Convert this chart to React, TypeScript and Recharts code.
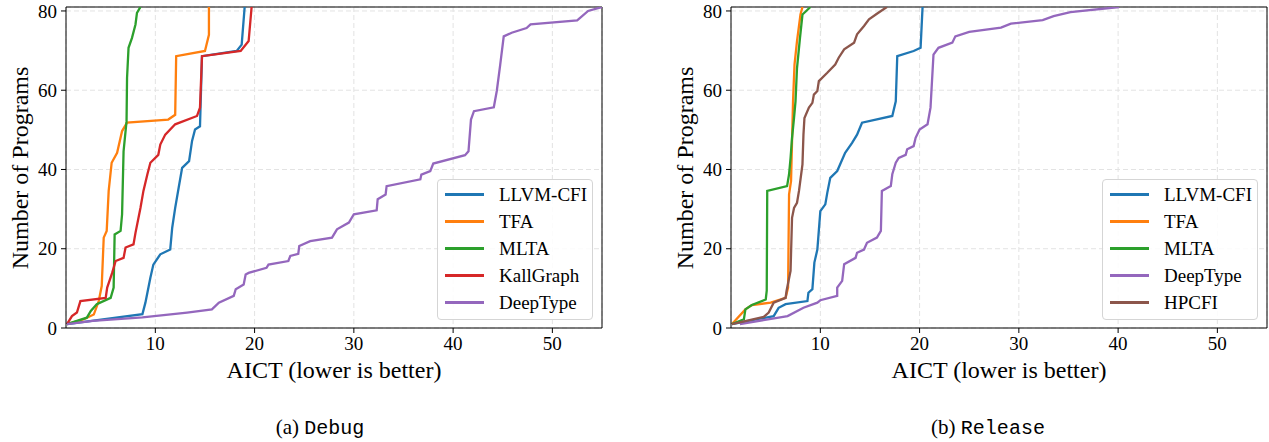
import { LineChart, Line, XAxis, YAxis, CartesianGrid, Legend, ReferenceLine } from "recharts";

// AICT (x) vs number of programs (y), [aict, programs]
const debugLlvmCfi = [
  [1.1, 1], [8.7, 3.5], [9.0, 6.4], [9.5, 12.7], [9.8, 16], [10.5, 18.6], [11.5, 19.8], [11.7, 25.3],
  [12.0, 30.3], [12.35, 35.4], [12.7, 40.4], [13.4, 42.1], [13.7, 47.2], [14.0, 50.1], [14.5, 50.9],
  [14.7, 68.6], [18.2, 69.9], [18.7, 71.5], [19.0, 81],
];
const debugTfa = [
  [1.1, 1], [2.8, 2.2], [3.8, 3.4], [4.3, 6.8], [4.6, 10.6], [4.8, 22.8], [5.1, 24.5], [5.3, 34.6],
  [5.6, 41.7], [6.15, 44.2], [6.65, 49.7], [7.15, 51.8], [11.3, 52.6], [12.0, 53.8], [12.1, 68.6],
  [15.0, 69.9], [15.4, 74], [15.4, 81],
];
const debugMlta = [
  [1.1, 1], [3.1, 2.6], [3.5, 4.3], [4.1, 6.0], [5.5, 7.6], [5.8, 10.2], [5.9, 23.6], [6.5, 24.5],
  [6.65, 28.7], [6.8, 44.6], [7.1, 52.2], [7.15, 63.1], [7.3, 70.7], [7.65, 73.2], [8.0, 76.6],
  [8.15, 79.5], [8.5, 81],
];
const debugKallGraph = [
  [1.1, 1], [1.6, 3.0], [2.1, 3.9], [2.45, 6.8], [5.0, 7.6], [5.15, 10.2], [5.65, 13.9], [6.0, 16.9],
  [6.8, 17.7], [7.0, 20.3], [7.8, 21.1], [8.0, 24], [8.5, 30.3], [8.8, 34.6], [9.2, 38.8], [9.5, 41.7],
  [10.3, 43.7], [10.5, 46.3], [11.0, 48.8], [12.0, 51.4], [14.2, 53.5], [14.5, 55.6], [14.7, 68.6],
  [18.6, 69.9], [19.4, 72.4], [19.7, 81],
];
const debugDeepType = [
  [1.1, 1], [3.7, 1.8], [8.7, 2.7], [13.2, 3.9], [15.7, 4.7], [16.4, 6.4], [17.9, 8.1], [18.1, 9.8],
  [18.9, 11], [19.1, 13.5], [19.4, 13.9], [21.2, 15.2], [21.4, 16], [23.4, 16.9], [23.6, 18.2],
  [24.4, 18.7], [24.5, 20.7], [25.6, 21.9], [27.8, 22.8], [28.3, 24.9], [29.5, 26.6], [30.0, 28.7],
  [32.3, 29.7], [32.4, 32.5], [33.2, 33.7], [33.3, 35.8], [36.7, 37.5], [36.8, 38.7], [37.7, 39.6],
  [38.0, 41.5], [41.2, 43.6], [41.55, 44.6], [41.8, 52.6], [42.1, 54.7], [44.1, 55.7], [44.4, 59.8],
  [44.75, 66.5], [45.1, 73.6], [45.9, 74.5], [47.4, 75.7], [47.8, 76.6], [52.5, 77.6], [53.6, 80],
  [55, 81],
];

const releaseLlvmCfi = [
  [1.1, 1], [5.3, 3.0], [5.8, 5.1], [6.5, 6.0], [8.7, 6.8], [8.8, 8.9], [9.2, 9.8], [9.4, 16.5],
  [9.7, 19.8], [10.0, 29.5], [10.5, 31.2], [10.7, 34.1], [11.0, 37.9], [11.7, 39.6], [12.5, 44.2],
  [13.2, 46.7], [13.7, 48.8], [14.2, 51.8], [17.25, 53.5], [17.6, 57.2], [17.75, 68.6], [19.4, 69.9],
  [20.1, 70.7], [20.3, 81],
];
const releaseTfa = [
  [1.1, 1], [2.45, 4.7], [3.1, 5.8], [5.0, 6.4], [6.5, 7.6], [6.75, 10.2], [6.85, 33.7], [7.05, 37.1],
  [7.15, 47.2], [7.25, 57.2], [7.4, 66.5], [7.65, 72.4], [8.0, 79.1], [8.2, 81],
];
const releaseMlta = [
  [1.1, 1], [2.3, 2.2], [2.45, 4.7], [3.1, 5.8], [4.5, 7.2], [4.6, 9.4], [4.65, 34.6], [6.65, 35.8],
  [6.85, 38.8], [7.0, 42.9], [7.15, 48], [7.35, 53], [7.5, 57.2], [7.65, 65.6], [7.95, 73.2],
  [8.2, 79.1], [8.5, 79.8], [9.0, 81],
];
const releaseDeepType = [
  [1.9, 1], [6.7, 3.0], [8.3, 5.1], [9.7, 6.4], [10.0, 7.0], [11.7, 8.1], [11.7, 10.2], [12.2, 11.9],
  [12.4, 16.1], [13.55, 17.7], [13.7, 19], [14.4, 19.8], [14.7, 21.5], [15.7, 22.8], [16.1, 24.5],
  [16.2, 34.6], [17.1, 35.8], [17.25, 38.8], [17.6, 41.7], [17.9, 42.9], [18.6, 43.7], [18.75, 45.1],
  [19.4, 45.9], [19.6, 48], [20.0, 50.1], [20.8, 51.4], [21.1, 55.6], [21.4, 69], [21.9, 70.7],
  [23.3, 72], [23.6, 73.6], [25, 74.7], [28.2, 75.8], [29.2, 76.8], [32.4, 77.7], [33.5, 78.7],
  [35.2, 79.7], [40.1, 81],
];
const releaseHpcfi = [
  [1.1, 1], [4.3, 2.8], [4.8, 3.9], [5.3, 6.4], [6.5, 7.6], [6.6, 9.4], [7.0, 14.4], [7.15, 27.8],
  [7.35, 30.3], [7.65, 31.6], [7.85, 34.6], [8.2, 41.3], [8.3, 48.8], [8.4, 53], [8.85, 55.6],
  [9.2, 56.8], [9.35, 58.9], [9.7, 59.8], [9.85, 62.3], [10.7, 64.4], [11.5, 66.5], [11.85, 68.2],
  [12.4, 70.3], [13.4, 72], [13.7, 74.1], [14.4, 76.2], [14.9, 77.9], [15.7, 79.3], [16.7, 81],
];

const xTicks = [10, 20, 30, 40, 50];
const yTicks = [0, 20, 40, 60, 80];

const SERIF = "'Liberation Serif', 'Times New Roman', serif";
const MONO = "'Liberation Mono', 'DejaVu Sans Mono', monospace";

const toPoints = (pairs: number[][]) => pairs.map(([x, y]) => ({ x, y }));

type Series = { name: string; color: string; points: number[][] };

const debugSeries: Series[] = [
  { name: "LLVM-CFI", color: "#1f77b4", points: debugLlvmCfi },
  { name: "TFA", color: "#ff7f0e", points: debugTfa },
  { name: "MLTA", color: "#2ca02c", points: debugMlta },
  { name: "KallGraph", color: "#d62728", points: debugKallGraph },
  { name: "DeepType", color: "#9467bd", points: debugDeepType },
];

const releaseSeries: Series[] = [
  { name: "LLVM-CFI", color: "#1f77b4", points: releaseLlvmCfi },
  { name: "TFA", color: "#ff7f0e", points: releaseTfa },
  { name: "MLTA", color: "#2ca02c", points: releaseMlta },
  { name: "DeepType", color: "#9467bd", points: releaseDeepType },
  { name: "HPCFI", color: "#8c564b", points: releaseHpcfi },
];

// matplotlib-like legend box, keeps the plotting order
function BoxLegend({ series }: { series: Series[] }) {
  return (
    <div
      style={{
        boxSizing: "border-box",
        width: 156,
        border: "1px solid #d5d5d5",
        borderRadius: 4,
        background: "rgba(255,255,255,0.85)",
        padding: "1px 0 3px 7px",
        fontFamily: SERIF,
        fontSize: 19,
        color: "#000",
        whiteSpace: "nowrap",
      }}
    >
      {series.map((s) => (
        <div key={s.name} style={{ display: "flex", alignItems: "center", height: 27 }}>
          <span style={{ width: 39, borderTop: `3px solid ${s.color}`, marginRight: 15 }} />
          <span>{s.name}</span>
        </div>
      ))}
    </div>
  );
}

function AictPanel({ series, left }: { series: Series[]; left: number }) {
  return (
    <div style={{ position: "absolute", left, top: 0 }}>
      <LineChart width={612} height={360} margin={{ top: 7, right: 10, bottom: 1, left: 0 }}>
        <CartesianGrid stroke="#e3e3e3" strokeDasharray="5 3" />
        <XAxis
          dataKey="x"
          type="number"
          domain={[1, 55]}
          ticks={xTicks}
          allowDataOverflow
          height={31}
          stroke="#000"
          tickSize={5}
          tickMargin={4}
          tick={{ fill: "#000", fontSize: 19, fontFamily: SERIF }}
        />
        <YAxis
          type="number"
          domain={[0, 81]}
          ticks={yTicks}
          allowDataOverflow
          width={66}
          stroke="#000"
          tickSize={5}
          tickMargin={4}
          tick={{ fill: "#000", fontSize: 19, fontFamily: SERIF }}
        />
        <ReferenceLine y={81} stroke="#000" strokeWidth={1} />
        <ReferenceLine x={55} stroke="#000" strokeWidth={1} />
        {series.map((s) => (
          <Line
            key={s.name}
            name={s.name}
            data={toPoints(s.points)}
            dataKey="y"
            type="linear"
            stroke={s.color}
            strokeWidth={2.3}
            dot={false}
            activeDot={false}
            isAnimationActive={false}
          />
        ))}
        <Legend
          layout="vertical"
          align="center"
          verticalAlign="middle"
          wrapperStyle={{ left: 437, top: 179, width: "auto" }}
          content={() => <BoxLegend series={series} />}
        />
      </LineChart>
    </div>
  );
}

const titleStyle: React.CSSProperties = {
  position: "absolute",
  fontFamily: SERIF,
  fontSize: 24,
  lineHeight: 1,
  whiteSpace: "nowrap",
  color: "#000",
};

function Caption({ x, tag, mode }: { x: number; tag: string; mode: string }) {
  return (
    <div style={{ ...titleStyle, left: x, top: 428, fontSize: 21, transform: "translate(-50%, -50%)" }}>
      {tag} <span style={{ fontFamily: MONO, fontSize: 20 }}>{mode}</span>
    </div>
  );
}

export default function App() {
  return (
    <div style={{ position: "relative", width: 1269, height: 442, background: "#fff", overflow: "hidden" }}>
      <style>{"body{margin:0}"}</style>
      <AictPanel series={debugSeries} left={0} />
      <AictPanel series={releaseSeries} left={665} />

      <div style={{ ...titleStyle, left: 20, top: 168, transform: "translate(-50%, -50%) rotate(-90deg)" }}>
        Number of Programs
      </div>
      <div style={{ ...titleStyle, left: 685, top: 168, transform: "translate(-50%, -50%) rotate(-90deg)" }}>
        Number of Programs
      </div>
      <div style={{ ...titleStyle, left: 334, top: 370, transform: "translate(-50%, -50%)" }}>
        AICT (lower is better)
      </div>
      <div style={{ ...titleStyle, left: 999, top: 370, transform: "translate(-50%, -50%)" }}>
        AICT (lower is better)
      </div>

      <Caption x={320} tag="(a)" mode="Debug" />
      <Caption x={988} tag="(b)" mode="Release" />
    </div>
  );
}
